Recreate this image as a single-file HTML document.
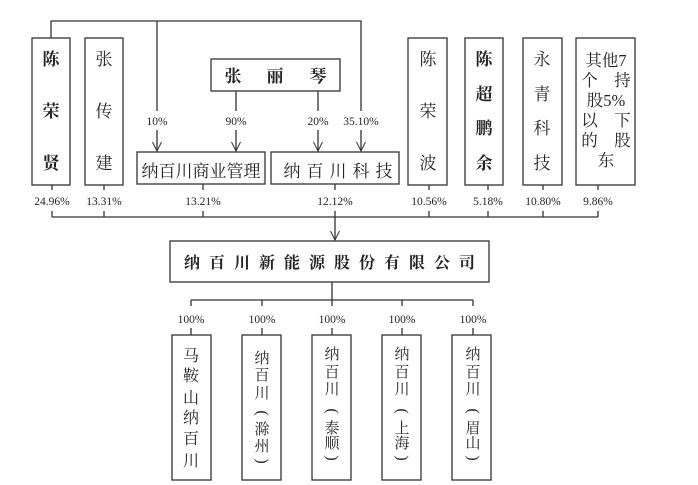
<!DOCTYPE html>
<html><head><meta charset="utf-8"><style>
html,body{margin:0;padding:0;background:#fff;}
svg{display:block;}
text{font-family:"Liberation Serif","Noto Serif CJK SC",serif;fill:#222;}
.cn{font-size:17px;}
.p{font-size:11.5px;}
</style></head><body>
<svg width="698" height="485" viewBox="0 0 698 485" xmlns="http://www.w3.org/2000/svg">
<g fill="none" stroke="#333" stroke-width="1.3">
<polyline points="51,38 51,21 361,21 361,111"/>
<line x1="361" y1="130" x2="361" y2="151"/>
<line x1="157" y1="21" x2="157" y2="111"/>
<line x1="157" y1="130" x2="157" y2="151"/>
<line x1="236" y1="91" x2="236" y2="111"/>
<line x1="236" y1="130" x2="236" y2="151"/>
<line x1="318" y1="91" x2="318" y2="111"/>
<line x1="318" y1="130" x2="318" y2="151"/>
<g stroke-width="1">
<polyline points="152.5,142 157,151 161.5,142"/>
<polyline points="231.5,142 236,151 240.5,142"/>
<polyline points="313.5,142 318,151 322.5,142"/>
<polyline points="356.5,142 361,151 365.5,142"/>
<polyline points="330.5,231 335,240 339.5,231"/>
</g>
<rect x="32" y="38" width="38" height="147"/>
<rect x="85" y="38" width="38" height="147"/>
<rect x="211" y="59" width="129" height="32"/>
<rect x="137" y="152" width="128" height="32"/>
<rect x="271" y="152" width="128" height="32"/>
<rect x="408" y="38" width="39" height="147"/>
<rect x="465" y="38" width="38" height="147"/>
<rect x="523" y="38" width="39" height="147"/>
<rect x="576" y="38" width="59" height="147"/>
<line x1="52" y1="185" x2="52" y2="190"/><line x1="52" y1="211" x2="52" y2="217"/>
<line x1="104" y1="185" x2="104" y2="190"/><line x1="104" y1="211" x2="104" y2="217"/>
<line x1="203" y1="184" x2="203" y2="190"/><line x1="203" y1="211" x2="203" y2="217"/>
<line x1="335" y1="184" x2="335" y2="190"/>
<line x1="429" y1="185" x2="429" y2="190"/><line x1="429" y1="211" x2="429" y2="217"/>
<line x1="488" y1="185" x2="488" y2="190"/><line x1="488" y1="211" x2="488" y2="217"/>
<line x1="543" y1="185" x2="543" y2="190"/><line x1="543" y1="211" x2="543" y2="217"/>
<line x1="598" y1="185" x2="598" y2="190"/><line x1="598" y1="211" x2="598" y2="217"/>
<line x1="52" y1="217" x2="598" y2="217"/>
<line x1="335" y1="211" x2="335" y2="240"/>
<rect x="170" y="241" width="319" height="41"/>
<line x1="332" y1="282" x2="332" y2="300"/>
<line x1="191" y1="300" x2="473" y2="300"/>
<line x1="191" y1="300" x2="191" y2="306"/><line x1="191" y1="328" x2="191" y2="335"/>
<line x1="262" y1="300" x2="262" y2="306"/><line x1="262" y1="328" x2="262" y2="335"/>
<line x1="332" y1="300" x2="332" y2="306"/><line x1="332" y1="328" x2="332" y2="335"/>
<line x1="402" y1="300" x2="402" y2="306"/><line x1="402" y1="328" x2="402" y2="335"/>
<line x1="473" y1="300" x2="473" y2="306"/><line x1="473" y1="328" x2="473" y2="335"/>
<rect x="172" y="335" width="39" height="145"/>
<rect x="242" y="335" width="39" height="145"/>
<rect x="312" y="335" width="39" height="145"/>
<rect x="382" y="335" width="39" height="145"/>
<rect x="452" y="335" width="39" height="145"/>
</g>
<g text-anchor="middle">
<text x="157" y="125" class="p">10%</text>
<text x="236" y="125" class="p">90%</text>
<text x="318" y="125" class="p">20%</text>
<text x="361" y="125" class="p">35.10%</text>
<text x="52" y="205" class="p">24.96%</text>
<text x="104" y="205" class="p">13.31%</text>
<text x="203" y="205" class="p">13.21%</text>
<text x="335" y="205" class="p">12.12%</text>
<text x="429" y="205" class="p">10.56%</text>
<text x="488" y="205" class="p">5.18%</text>
<text x="543" y="205" class="p">10.80%</text>
<text x="598" y="205" class="p">9.86%</text>
<text x="191" y="323" class="p">100%</text>
<text x="262" y="323" class="p">100%</text>
<text x="332" y="323" class="p">100%</text>
<text x="402" y="323" class="p">100%</text>
<text x="473" y="323" class="p">100%</text>

<g font-weight="bold" class="cn"><text x="51" y="65">陈</text><text x="51" y="117">荣</text><text x="51" y="169">贤</text></g>
<g class="cn"><text x="104" y="65">张</text><text x="104" y="117">传</text><text x="104" y="169">建</text></g>
<g class="cn" font-weight="bold"><text x="233" y="82">张</text><text x="275" y="82">丽</text><text x="318" y="82">琴</text></g>
<text x="201" y="177" class="cn" font-size="16">纳百川商业管理</text>
<g class="cn"><text x="292" y="177">纳</text><text x="315" y="177">百</text><text x="338" y="177">川</text><text x="361" y="177">科</text><text x="384" y="177">技</text></g>
<g class="cn"><text x="428" y="65">陈</text><text x="428" y="117">荣</text><text x="428" y="169">波</text></g>
<g class="cn" font-weight="bold"><text x="484" y="65">陈</text><text x="484" y="100">超</text><text x="484" y="134">鹏</text><text x="484" y="169">余</text></g>
<g class="cn"><text x="542" y="65">永</text><text x="542" y="100">青</text><text x="542" y="134">科</text><text x="542" y="169">技</text></g>
<g font-size="16.5">
<text x="606" y="66">其他7</text>
<text x="606" y="86">个　持</text>
<text x="606" y="106">股5%</text>
<text x="606" y="126">以　下</text>
<text x="606" y="146">的　股</text>
<text x="606" y="166">东</text>
</g>
<g font-size="16" font-weight="bold">
<text x="192" y="268">纳</text><text x="217" y="268">百</text><text x="242" y="268">川</text><text x="267" y="268">新</text><text x="292" y="268">能</text><text x="317" y="268">源</text><text x="342" y="268">股</text><text x="367" y="268">份</text><text x="392" y="268">有</text><text x="417" y="268">限</text><text x="442" y="268">公</text><text x="467" y="268">司</text>
</g>
<g font-size="16">
<text x="191" y="361">马</text><text x="191" y="381">鞍</text><text x="191" y="403">山</text><text x="191" y="423">纳</text><text x="191" y="444">百</text><text x="191" y="466">川</text>
</g>
<g font-size="15">
<text x="262" y="363">纳</text><text x="262" y="380">百</text><text x="262" y="398">川</text><text x="262" y="434">滁</text><text x="262" y="451">州</text>
<text x="332" y="359">纳</text><text x="332" y="377">百</text><text x="332" y="394">川</text><text x="332" y="433">泰</text><text x="332" y="448">顺</text>
<text x="402" y="359">纳</text><text x="402" y="377">百</text><text x="402" y="394">川</text><text x="402" y="433">上</text><text x="402" y="448">海</text>
<text x="473" y="359">纳</text><text x="473" y="377">百</text><text x="473" y="394">川</text><text x="473" y="433">眉</text><text x="473" y="448">山</text>
</g>
<g font-size="16" dominant-baseline="central">
<text transform="translate(262,413) rotate(90)">(</text><text transform="translate(262,461) rotate(90)">)</text>
<text transform="translate(332,411) rotate(90)">(</text><text transform="translate(332,458) rotate(90)">)</text>
<text transform="translate(402,411) rotate(90)">(</text><text transform="translate(402,458) rotate(90)">)</text>
<text transform="translate(473,411) rotate(90)">(</text><text transform="translate(473,458) rotate(90)">)</text>
</g>
</g>
</svg>
</body></html>
